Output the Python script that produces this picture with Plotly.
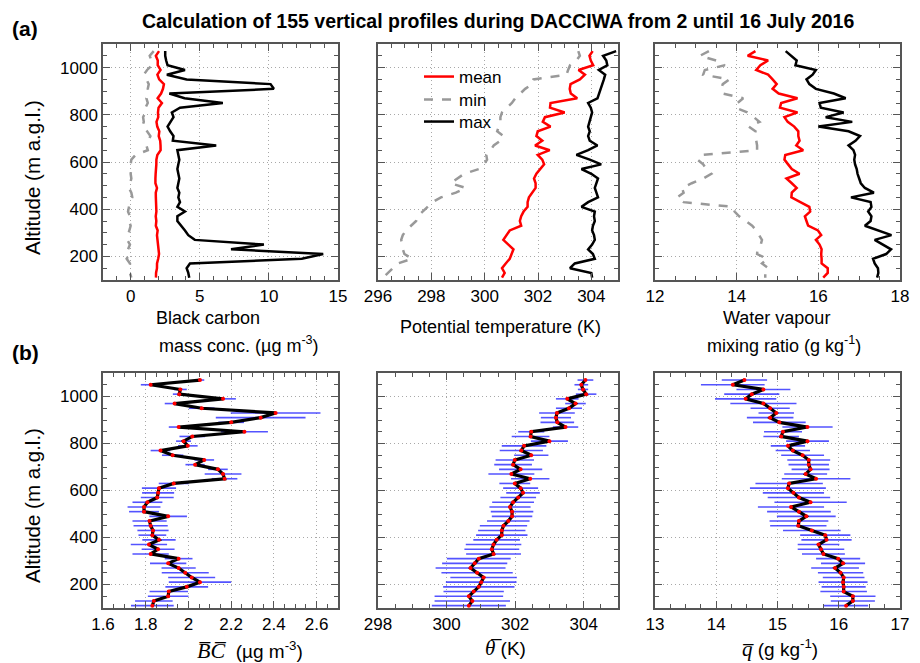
import plotly.graph_objects as go

# ---------------- data ----------------
alt = list(range(1070, 109, -20))  # 49 levels, top to bottom

bc_mean = [2.054, 1.823, 1.962, 1.957, 2.162, 1.935, 2.062, 2.408, 2.338, 2.200,
           1.954, 2.262, 2.018, 1.977, 1.997, 1.869, 1.926, 2.074, 2.031, 2.138,
           2.162, 2.169, 1.931, 1.862, 1.858, 1.854, 1.808, 1.792, 1.792, 1.905,
           1.818, 1.823, 1.834, 1.831, 1.862, 1.815, 1.858, 1.823, 1.954, 1.905,
           1.954, 1.985, 2.015, 2.054, 1.992, 1.908, 1.905, 1.838, 1.831]
bc_min = [1.67, 1.38, 1.50, 1.55, 1.19, 0.95, 1.14, 1.31, 1.24, 1.31,
          1.14, 1.24, 1.07, 1.07, 0.90, 0.95, 0.83, 1.19, 1.43, 1.31,
          1.14, 1.24, 0.36, 0.05, 0.00, 0.05, 0.00, 0.05, -0.05, -0.12,
          0.05, 0.12, -0.05, -0.12, -0.19, -0.05, -0.12, 0.00, -0.12, -0.19,
          -0.24, -0.05, -0.19, -0.05, -0.29, -0.05, 0.00, -0.05, 0.05]
bc_max = [2.50, 2.50, 2.57, 2.67, 3.93, 2.62, 4.05, 10.12, 10.36, 2.80,
          3.90, 6.67, 3.57, 2.98, 3.10, 2.86, 2.67, 2.86, 3.10, 3.05,
          6.19, 3.38, 3.45, 3.52, 3.45, 3.38, 3.45, 3.52, 3.45, 3.38,
          3.52, 3.45, 3.57, 3.38, 3.93, 3.38, 3.38, 3.69, 3.93, 4.17,
          4.64, 9.64, 7.26, 13.93, 12.38, 4.29, 4.05, 4.17, 4.24]
bc_err = [0.02, 0.046, 0.03, 0.03, 0.06, 0.046, 0.06, 0.21, 0.21, 0.06,
          0.046, 0.11, 0.06, 0.035, 0.046, 0.046, 0.05, 0.046, 0.045, 0.046,
          0.086, 0.06, 0.07, 0.08, 0.075, 0.077, 0.07, 0.077, 0.07, 0.088,
          0.08, 0.08, 0.073, 0.065, 0.078, 0.085, 0.077, 0.085, 0.065, 0.085,
          0.08, 0.11, 0.11, 0.146, 0.10, 0.09, 0.095, 0.088, 0.10]

th_mean = [304.05, 303.93, 303.98, 304.07, 303.52, 303.76, 303.57, 303.22, 303.19, 303.23,
           303.47, 302.47, 302.45, 303.00, 302.26, 302.18, 302.47, 301.99, 301.94, 302.16,
           301.89, 302.44, 301.99, 302.16, 302.23, 302.09, 301.94, 301.85, 301.91, 301.91,
           301.80, 301.66, 301.61, 301.61, 301.46, 301.37, 301.32, 301.37, 300.94, 300.82,
           300.70, 300.89, 301.08, 301.01, 300.94, 300.79, 300.65, 300.75, 300.65]
th_min = [303.51, 303.57, 303.44, 303.20, 303.13, 303.07, 301.83, 301.79, 301.52, 301.33,
          301.15, 301.02, 300.84, 300.65, 300.59, 300.59, 300.53, 300.47, 300.71, 300.59,
          300.34, 300.22, 300.06, 300.09, 299.97, 299.78, 299.23, 298.98, 298.73, 299.29,
          298.92, 298.36, 298.05, 297.86, 297.67, 297.49, 297.43, 297.24, 297.05, 296.93,
          296.87, 296.91, 296.93, 296.99, 297.28, 296.74, 296.56, 296.37, 296.19]
th_max = [304.93, 304.44, 304.56, 304.60, 304.28, 304.52, 304.47, 304.41, 304.37, 304.31,
          304.23, 303.88, 303.98, 304.03, 303.98, 303.94, 303.88, 303.94, 303.88, 303.94,
          304.23, 303.88, 303.44, 303.94, 304.37, 303.63, 304.00, 304.25, 304.19, 304.13,
          304.19, 304.25, 303.88, 303.63, 304.13, 304.10, 304.13, 304.06, 304.03, 304.10,
          304.13, 304.03, 303.88, 304.06, 304.13, 303.38, 303.20, 304.00, 304.03]
th_err = [0.23, 0.20, 0.15, 0.30, 0.33, 0.30, 0.38, 0.52, 0.44, 0.49,
          0.37, 0.38, 0.55, 0.54, 0.65, 0.63, 0.50, 0.56, 0.55, 0.63,
          0.67, 0.56, 0.45, 0.51, 0.49, 0.52, 0.61, 0.60, 0.62, 0.59,
          0.62, 0.69, 0.69, 0.75, 0.68, 0.81, 0.80, 0.80, 0.93, 0.95,
          1.02, 1.04, 0.97, 1.03, 1.04, 0.88, 1.00, 1.10, 1.08]

q_mean = [14.46, 14.27, 14.77, 14.58, 14.48, 14.77, 14.88, 14.98, 14.88, 15.03,
          15.49, 15.09, 15.06, 15.49, 15.17, 15.25, 15.41, 15.51, 15.51, 15.54,
          15.46, 15.63, 15.19, 15.17, 15.26, 15.35, 15.54, 15.22, 15.35, 15.47,
          15.35, 15.34, 15.56, 15.78, 15.80, 15.67, 15.71, 15.75, 15.99, 16.07,
          15.94, 16.03, 16.08, 16.07, 16.08, 16.08, 16.23, 16.23, 16.12]
q_min = [13.32, 13.10, 13.50, 13.71, 13.22, 13.18, 13.82, 13.66, 13.62, 13.66,
         14.16, 14.02, 13.98, 14.26, 14.42, 14.56, 14.30, 14.46, 14.43, 14.48,
         14.50, 14.50, 13.18, 13.04, 13.18, 13.26, 13.38, 13.18, 12.90, 12.66,
         12.70, 12.54, 12.70, 13.90, 13.95, 14.06, 14.22, 14.38, 14.48, 14.56,
         14.62, 14.59, 14.51, 14.50, 14.75, 14.62, 14.78, 14.70, 14.70]
q_max = [15.20, 15.34, 15.47, 15.44, 15.94, 15.86, 15.71, 15.78, 15.94, 16.38,
         16.67, 16.03, 16.06, 16.62, 16.18, 16.83, 16.00, 16.74, 17.02, 16.91,
         16.74, 16.86, 16.90, 16.88, 16.90, 16.94, 16.96, 17.00, 17.04, 17.14,
         17.36, 16.80, 17.28, 17.30, 17.22, 17.30, 17.28, 17.14, 17.46, 17.79,
         17.38, 17.58, 17.78, 17.66, 17.34, 17.38, 17.46, 17.47, 17.44]
q_err = [0.37, 0.52, 0.44, 0.45, 0.50, 0.54, 0.32, 0.29, 0.38, 0.43,
         0.41, 0.31, 0.29, 0.35, 0.28, 0.28, 0.35, 0.35, 0.33, 0.31,
         0.35, 0.56, 0.55, 0.62, 0.50, 0.51, 0.59, 0.54, 0.52, 0.48,
         0.48, 0.46, 0.47, 0.41, 0.41, 0.34, 0.38, 0.35, 0.36, 0.36,
         0.39, 0.37, 0.34, 0.40, 0.36, 0.38, 0.37, 0.36, 0.36]

# ---------------- layout helpers ----------------
W, H = 920, 663
FONT = "Liberation Sans, Arial, sans-serif"
cols = [(103, 338), (378, 618), (655, 900)]
rows = [(44, 280), (373, 608)]

xranges = [[-2, 15], [296, 305], [12, 18], [1.6, 2.7], [298, 305], [13, 17]]
xdticks = [5, 2, 2, 0.2, 2, 1]
xtick0 = [0, 296, 12, 1.6, 298, 13]
xminor = [1, 0.5, 0.5, 0.05, 0.5, 0.25]

fig = go.Figure()

axcommon = dict(showline=True, mirror="allticks", linecolor="#555555", linewidth=1.5,
                ticks="inside", ticklen=7, tickcolor="#555555", tickwidth=1,
                showgrid=True, gridcolor="#a8a8a8", griddash="1px,3px", gridwidth=1,
                zeroline=False, automargin=False,
                tickfont=dict(family=FONT, size=17, color="black"))

layout = dict(width=W, height=H, margin=dict(l=0, r=0, t=0, b=0),
              paper_bgcolor="white", plot_bgcolor="white", showlegend=True)

for i in range(6):
    r, c = divmod(i, 3)
    n = i + 1
    xa = "xaxis" if n == 1 else f"xaxis{n}"
    ya = "yaxis" if n == 1 else f"yaxis{n}"
    x0, x1 = cols[c]
    y0, y1 = rows[r]
    layout[xa] = dict(axcommon, domain=[x0 / W, x1 / W], range=xranges[i],
                      tick0=xtick0[i], dtick=xdticks[i], anchor=f"y{'' if n == 1 else n}",
                      minor=dict(ticks="inside", ticklen=4, dtick=xminor[i], tickcolor="#555555", showgrid=False))
    layout[ya] = dict(axcommon, domain=[1 - y1 / H, 1 - y0 / H], range=[100, 1100],
                      tick0=0, dtick=200, anchor=f"x{'' if n == 1 else n}",
                      showticklabels=(c == 0),
                      minor=dict(ticks="inside", ticklen=4, dtick=50, tickcolor="#555555", showgrid=False))

def ax(n):
    return ("x" if n == 1 else f"x{n}", "y" if n == 1 else f"y{n}")

RED, GRAY, BLACK = "#ff0000", "#999999", "#000000"
top = [(bc_mean, bc_min, bc_max), (th_mean, th_min, th_max), (q_mean, q_min, q_max)]
for c, (mn, lo, hi) in enumerate(top):
    xa, ya = ax(c + 1)
    fig.add_trace(go.Scatter(x=lo, y=alt, xaxis=xa, yaxis=ya, mode="lines", name="min",
                             line=dict(color=GRAY, width=2.5, dash="dash"), showlegend=False))
    fig.add_trace(go.Scatter(x=hi, y=alt, xaxis=xa, yaxis=ya, mode="lines", name="max",
                             line=dict(color=BLACK, width=2.5), showlegend=False))
    fig.add_trace(go.Scatter(x=mn, y=alt, xaxis=xa, yaxis=ya, mode="lines", name="mean",
                             line=dict(color=RED, width=2.5), showlegend=False))

# legend entries (order mean, min, max), each in its own legend box for exact spacing
leg_items = [("mean", dict(color=RED, width=2.5), "legend", 77),
             ("min", dict(color=GRAY, width=2.5, dash="dash"), "legend2", 100),
             ("max", dict(color=BLACK, width=2.5), "legend3", 122)]
for name, ln, lg, ly in leg_items:
    fig.add_trace(go.Scatter(x=[None], y=[None], xaxis="x2", yaxis="y2", mode="lines",
                             name=name, line=ln, showlegend=True, legend=lg))
    layout[lg] = dict(x=419 / W, y=1 - ly / H, xanchor="left", yanchor="middle",
                      bgcolor="rgba(0,0,0,0)", borderwidth=0,
                      font=dict(family=FONT, size=17, color="black"),
                      itemwidth=30)

bottom = [(bc_mean, bc_err), (th_mean, th_err), (q_mean, q_err)]
for c, (mn, er) in enumerate(bottom):
    xa, ya = ax(c + 4)
    fig.add_trace(go.Scatter(x=mn, y=alt, xaxis=xa, yaxis=ya, mode="markers",
                             marker=dict(size=1, color="rgba(0,0,0,0)"),
                             error_x=dict(type="data", array=er, symmetric=True, color="rgba(40,40,255,0.8)",
                                          thickness=1.6, width=0),
                             showlegend=False))
    fig.add_trace(go.Scatter(x=mn, y=alt, xaxis=xa, yaxis=ya, mode="lines+markers",
                             line=dict(color=BLACK, width=3.2),
                             marker=dict(size=4, color=RED),
                             showlegend=False))

def ann(x, y, text, size=18, **kw):
    d = dict(x=x / W, y=1 - y / H, xref="paper", yref="paper", text=text, showarrow=False,
             font=dict(family=FONT, size=size, color="black"), xanchor="center", yanchor="middle")
    d.update(kw)
    return d

SERIF = "Liberation Serif"
annotations = [
    ann(498, 21, "<b>Calculation of 155 vertical profiles during DACCIWA from 2 until 16 July 2016</b>", size=19.5),
    ann(25, 29, "<b>(a)</b>", size=21),
    ann(25, 352, "<b>(b)</b>", size=21),
    ann(33, 178, "Altitude (m a.g.l.)", size=20.5, textangle=-90),
    ann(33, 506, "Altitude (m a.g.l.)", size=20.5, textangle=-90),
    ann(208, 318, "Black carbon", size=18),
    ann(239, 344, "mass conc. (µg m<sup>-3</sup>)", size=18),
    ann(500, 327, "Potential temperature (K)", size=18),
    ann(776, 318, "Water vapour", size=18),
    ann(784, 344, "mixing ratio (g kg<sup>-1</sup>)", size=18),
    ann(250, 650, f"<span style='font-family:{SERIF};font-size:22px'><i>B\u0305C\u0305</i></span>  (µg m<sup>-3</sup>)", size=19),
    ann(505, 648, f"<span style='font-family:{SERIF};font-size:21px'><i>\u03b8\u0305</i></span> (K)", size=19),
    ann(780, 648, f"<span style='font-family:{SERIF};font-size:21px'><i>q\u0305</i></span> (g kg<sup>-1</sup>)", size=19),
]
layout["annotations"] = annotations
fig.update_layout(**layout)
fig.write_html("out.html")
